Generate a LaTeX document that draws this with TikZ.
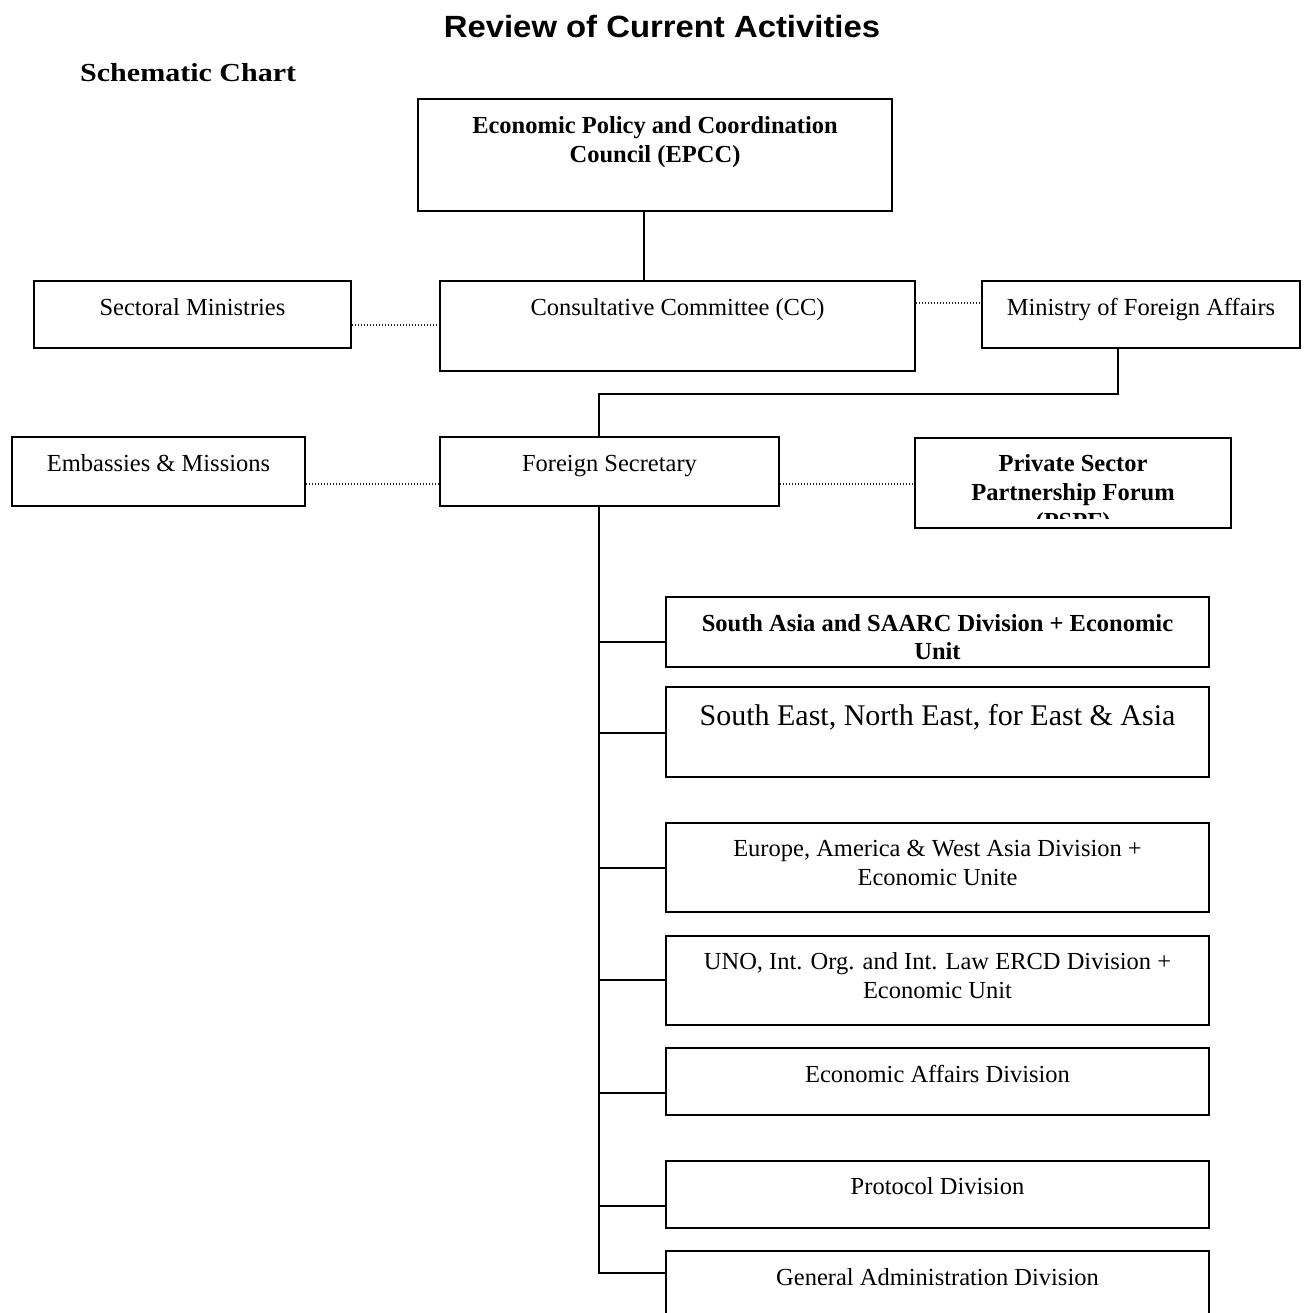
\documentclass[tikz,border=0pt]{standalone}
\usepackage{fontspec}
\setmainfont{Liberation Serif}
\newfontfamily\titlefont{Liberation Sans}
\begin{document}
\begin{tikzpicture}[x=1pt,y=-1pt,
  box/.style={draw, line width=2pt, inner sep=0pt},
  txt/.style={font=\fontsize{24.5}{29}\selectfont, align=center, inner sep=0pt, anchor=north},
  btxt/.style={txt, font=\fontsize{24.5}{29}\selectfont\bfseries},
  bigtxt/.style={txt, font=\fontsize{30}{35}\selectfont},
  link/.style={line width=2pt},
  dotlink/.style={line width=1.1pt, dash pattern=on 1.3pt off 1.7pt, black!85}]
\useasboundingbox (0,0) rectangle (1306,1313);
\fill[white] (0,0) rectangle (1306,1313);

% headings
\node[font=\titlefont\bfseries\fontsize{30.7}{36}\selectfont, anchor=base, inner sep=0pt] (title) at (662,38) {\scalebox{1.07}[1]{Review of Current Activities}};
\node[font=\bfseries\fontsize{26}{30}\selectfont, anchor=base west, inner sep=0pt] (schem) at (80,82) {\scalebox{1.155}[1]{Schematic Chart}};

% upper boxes
\node[box, minimum width=474pt, minimum height=112pt] (epcc) at (655,155) {};
\node[btxt] (epccT) at ([yshift=-14.7pt]epcc.north) {\strut Economic Policy and Coordination\\Council (EPCC)};

\node[box, minimum width=317pt, minimum height=67pt] (secmin) at (192.5,314.5) {};
\node[txt] (secminT) at ([yshift=-14.7pt]secmin.north) {\strut Sectoral Ministries};

\node[box, minimum width=475pt, minimum height=90pt] (cc) at (677.5,326) {};
\node[txt] (ccT) at ([yshift=-14.7pt]cc.north) {\strut Consultative Committee (CC)};

\node[box, minimum width=318pt, minimum height=67pt] (mfa) at (1141,314.5) {};
\node[txt] (mfaT) at ([yshift=-14.7pt]mfa.north) {\strut Ministry of Foreign Affairs};

\node[box, minimum width=293pt, minimum height=69pt] (emb) at (158.5,471.5) {};
\node[txt] (embT) at ([yshift=-15.2pt]emb.north) {\strut Embassies \& Missions};

\node[box, minimum width=339pt, minimum height=69pt] (fs) at (609.5,471.5) {};
\node[txt] (fsT) at ([yshift=-15.2pt]fs.north) {\strut Foreign Secretary};

\node[box, minimum width=316pt, minimum height=90pt] (pspf) at (1073,483) {};
\begin{scope}
  \clip (pspf.north west) rectangle ([yshift=11pt]pspf.south east);
  \node[btxt] (pspfT) at ([yshift=-14.2pt]pspf.north) {\strut Private Sector\\Partnership Forum\\(PSPF)};
\end{scope}

% divisions
\node[box, minimum width=543pt, minimum height=70pt] (d1) at (937.5,632) {};
\node[btxt, font=\fontsize{24.5}{28.5}\selectfont\bfseries] (d1T) at ([yshift=-15pt]d1.north) {\strut South Asia and SAARC Division + Economic\\Unit};

\node[box, minimum width=543pt, minimum height=90pt] (d2) at (937.5,732) {};
\node[bigtxt] (d2T) at ([yshift=-15pt]d2.north) {\strut South East, North East, for East \& Asia};

\node[box, minimum width=543pt, minimum height=89pt] (d3) at (937.5,867.5) {};
\node[txt] (d3T) at ([yshift=-13.7pt]d3.north) {\strut Europe, America \& West Asia Division +\\Economic Unite};

\node[box, minimum width=543pt, minimum height=89pt] (d4) at (937.5,980.5) {};
\node[txt] (d4T) at ([yshift=-13.7pt]d4.north) {\strut UNO, Int. Org. and Int. Law ERCD Division +\\Economic Unit};

\node[box, minimum width=543pt, minimum height=67pt] (d5) at (937.5,1081.5) {};
\node[txt] (d5T) at ([yshift=-14.7pt]d5.north) {\strut Economic Affairs Division};

\node[box, minimum width=543pt, minimum height=67pt] (d6) at (937.5,1194.5) {};
\node[txt] (d6T) at ([yshift=-14.2pt]d6.north) {\strut Protocol Division};

\node[box, minimum width=543pt, minimum height=89pt] (d7) at (937.5,1295.5) {};
\node[txt] (d7T) at ([yshift=-15pt]d7.north) {\strut General Administration Division};

% connectors
\coordinate (ecx) at (644,0);
\draw[link] (epcc.south -| ecx) -- (cc.north -| ecx);
\draw[dotlink] (secmin.east |- 0,325) -- (cc.west |- 0,325);
\draw[dotlink] (cc.east |- 0,303) -- (mfa.west |- 0,303);
\coordinate (mfx) at (1118,0);
\coordinate (bend) at (598.5,394);
\draw[link] (mfa.south -| mfx) |- (bend) -- (fs.north -| bend);
\draw[dotlink] (emb.east |- 0,484) -- (fs.west |- 0,484);
\draw[dotlink] (fs.east |- 0,484) -- (pspf.west |- 0,484);
\coordinate (tb) at (598.5,1273);
\draw[link] (fs.south -| tb) -- (tb) -- (d7.west |- tb);
\foreach \n/\yy in {d1/641.5, d2/732.5, d3/867.5, d4/980, d5/1093, d6/1206}
  \draw[link] (tb |- 0,\yy) -- (\n.west |- 0,\yy);
\end{tikzpicture}
\end{document}
